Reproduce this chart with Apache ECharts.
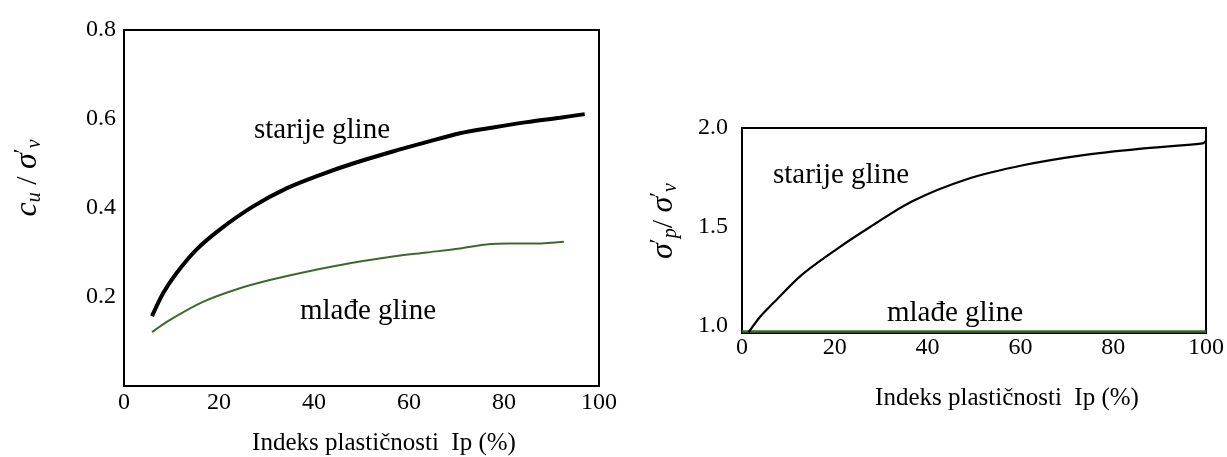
<!DOCTYPE html>
<html>
<head>
<meta charset="utf-8">
<script src="https://cdn.jsdelivr.net/npm/echarts@6/dist/echarts.min.js"></script>
<style>html,body{margin:0;padding:0;background:#fff}#c{width:1227px;height:457px}</style>
</head>
<body>
<div id="c"></div>
<script>
// ---- data ----
const xTicks = [0, 20, 40, 60, 80, 100];
const cuYTicks = [0.2, 0.4, 0.6, 0.8];
const spYTicks = [1.0, 1.5, 2.0];

const cuOldIp = [5.9, 8.2, 11, 15.2, 20.1, 27.1, 34.2, 41.2, 48.2, 56.6, 63.7, 70.7, 77.7, 84.8, 91.8, 97];
const cuOldVal = [0.157, 0.208, 0.253, 0.306, 0.351, 0.403, 0.444, 0.474, 0.500, 0.527, 0.548, 0.568, 0.581, 0.593, 0.603, 0.611];
const cuYoungIp = [5.9, 9.6, 16.6, 23.6, 30.7, 37.7, 44.7, 51.7, 56.6, 63.7, 70.7, 76.3, 81.2, 86.9, 92.6];
const cuYoungVal = [0.121, 0.148, 0.189, 0.217, 0.238, 0.255, 0.270, 0.283, 0.291, 0.300, 0.309, 0.318, 0.320, 0.320, 0.324];

const spOldIp = [1.4, 4, 6.9, 12.7, 20.2, 27.6, 36.7, 48.3, 60.8, 73.2, 85.6, 99.3, 100];
const spOldVal = [0.968, 1.05, 1.12, 1.255, 1.385, 1.50, 1.63, 1.74, 1.813, 1.862, 1.895, 1.922, 1.936];
const spYoungIp = [0, 100];
const spYoungVal = [0.972, 0.972];

const labelOld = 'starije gline';
const labelYoung = 'mlađe gline';
const xTitle = 'Indeks plastičnosti  Ip (%)';

// ---- chart ----
const zip = (a, b) => a.map((v, i) => [v, b[i]]);
const serif = '"Liberation Serif", "DejaVu Serif", serif';

const mathRich = {
  i: { fontFamily: serif, fontStyle: 'italic', fontSize: 32, lineHeight: 34, color: '#000' },
  n: { fontFamily: serif, fontSize: 30, lineHeight: 34, color: '#000' },
  sub: { fontFamily: serif, fontStyle: 'italic', fontSize: 20, lineHeight: 20, verticalAlign: 'bottom', color: '#000' },
  sup: { fontFamily: serif, fontSize: 22, lineHeight: 26, verticalAlign: 'top', color: '#000' }
};

function xAxisCfg(gi, margin) {
  return {
    type: 'value', gridIndex: gi, min: 0, max: 100, interval: 20,
    axisLine: { show: false }, axisTick: { show: false }, splitLine: { show: false },
    axisLabel: { fontFamily: serif, fontSize: 24, color: '#000', margin: margin,
      customValues: xTicks }
  };
}

const chart = echarts.init(document.getElementById('c'), null, { renderer: 'canvas' });
chart.setOption({
  animation: false,
  backgroundColor: '#fff',
  grid: [
    { left: 124, top: 30, width: 475, height: 356, show: true, borderColor: '#000', borderWidth: 2, backgroundColor: 'transparent' },
    { left: 742, top: 128, width: 471, height: 205, show: true, borderColor: '#000', borderWidth: 2, backgroundColor: 'transparent' }
  ],
  xAxis: [xAxisCfg(0, 5), xAxisCfg(1, 3)],
  yAxis: [
    {
      type: 'value', gridIndex: 0, min: 0, max: 0.8, interval: 0.2,
      axisLine: { show: false }, axisTick: { show: false }, splitLine: { show: false },
      axisLabel: { fontFamily: serif, fontSize: 24, color: '#000', margin: 8, padding: [0, 0, 8, 0],
        customValues: cuYTicks, formatter: v => v.toFixed(1) }
    },
    {
      type: 'value', gridIndex: 1, min: 0.965, max: 2.0,
      axisLine: { show: false }, axisTick: { show: false }, splitLine: { show: false },
      axisLabel: { fontFamily: serif, fontSize: 24, color: '#000', margin: 14, padding: [0, 0, 8, 0],
        customValues: spYTicks, formatter: v => v.toFixed(1) }
    }
  ],
  series: [
    { type: 'line', xAxisIndex: 0, yAxisIndex: 0, data: zip(cuOldIp, cuOldVal), smooth: 0.3,
      showSymbol: false, lineStyle: { color: '#000', width: 4 } },
    { type: 'line', xAxisIndex: 0, yAxisIndex: 0, data: zip(cuYoungIp, cuYoungVal), smooth: 0.3,
      showSymbol: false, lineStyle: { color: '#3d6a2c', width: 2 } },
    { type: 'line', xAxisIndex: 1, yAxisIndex: 1, data: zip(spYoungIp, spYoungVal),
      showSymbol: false, lineStyle: { color: '#3d6a2c', width: 2.5 } },
    { type: 'line', xAxisIndex: 1, yAxisIndex: 1, data: zip(spOldIp, spOldVal), smooth: 0.3,
      showSymbol: false, lineStyle: { color: '#000', width: 2.2 } }
  ],
  graphic: [
    { type: 'text', x: 28, y: 178, rotation: Math.PI / 2,
      style: { text: '{i|c}{sub|u}{n| / }{i|σ}{sup|′}{sub|v}', rich: mathRich, align: 'center', verticalAlign: 'middle' } },
    { type: 'text', x: 664, y: 221, rotation: Math.PI / 2,
      style: { text: '{i|σ}{sup|′}{sub|p}{n|/ }{i|σ}{sup|′}{sub|v}', rich: mathRich, align: 'center', verticalAlign: 'middle' } },
    { type: 'text', x: 322, y: 130, style: { text: labelOld, font: '29px ' + serif, fill: '#000', align: 'center', verticalAlign: 'middle' } },
    { type: 'text', x: 368, y: 311, style: { text: labelYoung, font: '29px ' + serif, fill: '#000', align: 'center', verticalAlign: 'middle' } },
    { type: 'text', x: 841, y: 175, style: { text: labelOld, font: '29px ' + serif, fill: '#000', align: 'center', verticalAlign: 'middle' } },
    { type: 'text', x: 955, y: 313, style: { text: labelYoung, font: '29px ' + serif, fill: '#000', align: 'center', verticalAlign: 'middle' } },
    { type: 'text', x: 384, y: 443, style: { text: xTitle, font: '25px ' + serif, fill: '#000', align: 'center', verticalAlign: 'middle' } },
    { type: 'text', x: 1007, y: 398, style: { text: xTitle, font: '25px ' + serif, fill: '#000', align: 'center', verticalAlign: 'middle' } }
  ]
});
</script>
</body>
</html>
